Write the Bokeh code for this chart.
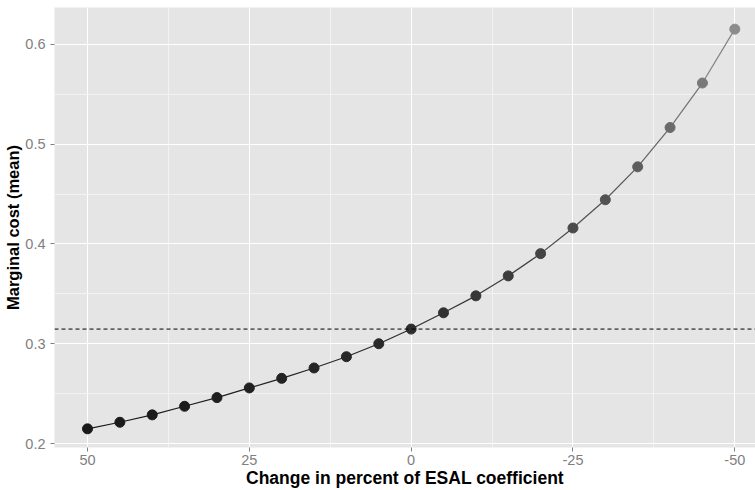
from bokeh.plotting import figure
from bokeh.models import Range1d, FixedTicker, Span, ColumnDataSource
from bokeh.embed import file_html
from bokeh.resources import INLINE

# Data
pct_change = [50, 45, 40, 35, 30, 25, 20, 15, 10, 5, 0,
              -5, -10, -15, -20, -25, -30, -35, -40, -45, -50]
marginal_cost = [0.2147, 0.2213, 0.2287, 0.2373, 0.2460, 0.2557, 0.2653,
                 0.2757, 0.2870, 0.3000, 0.3147, 0.3310, 0.3480, 0.3680,
                 0.3903, 0.4160, 0.4443, 0.4773, 0.5167, 0.5613, 0.6153]
baseline_cost = 0.3147
x_ticks = [50, 25, 0, -25, -50]
x_tick_labels = ["50", "25", "0", "-25", "-50"]
y_ticks = [0.2, 0.3, 0.4, 0.5, 0.6]
y_tick_labels = ["0.2", "0.3", "0.4", "0.5", "0.6"]

# colour gradient dark -> grey mapped on the value
lo, hi = min(marginal_cost), max(marginal_cost)
def grey(v):
    t = (v - lo) / (hi - lo)
    g = int(round(26 + (140 - 26) * t ** 1.25))
    return "#%02x%02x%02x" % (g, g, g)

pt_colors = [grey(v) for v in marginal_cost]
seg = ColumnDataSource(dict(
    x0=pct_change[:-1], y0=marginal_cost[:-1],
    x1=pct_change[1:], y1=marginal_cost[1:],
    c=[grey((a + b) / 2) for a, b in zip(marginal_cost[:-1], marginal_cost[1:])],
))
pts = ColumnDataSource(dict(x=pct_change, y=marginal_cost, c=pt_colors))

FONT = "Liberation Sans"

p = figure(width=755, height=490, output_backend="svg", toolbar_location=None,
           x_range=Range1d(55.1, -53.2), y_range=Range1d(0.196, 0.637),
           min_border_left=54, min_border_right=0, min_border_top=7,
           min_border_bottom=43)
p.background_fill_color = "#E5E5E5"
p.border_fill_color = "white"
p.outline_line_color = None

p.xaxis.ticker = FixedTicker(ticks=x_ticks, minor_ticks=[37.5, 12.5, -12.5, -37.5])
p.yaxis.ticker = FixedTicker(ticks=y_ticks, minor_ticks=[0.25, 0.35, 0.45, 0.55])
p.xaxis.major_label_overrides = dict(zip(x_ticks, x_tick_labels))
p.yaxis.major_label_overrides = dict(zip(y_ticks, y_tick_labels))

for ax in (p.xaxis[0], p.yaxis[0]):
    ax.axis_line_color = None
    ax.major_tick_line_color = "#7f7f7f"
    ax.major_tick_out = 4
    ax.major_tick_in = 0
    ax.minor_tick_line_color = None
    ax.major_label_text_color = "#7f7f7f"
    ax.major_label_text_font = FONT
    ax.major_label_text_font_size = "14.5px"
    ax.axis_label_text_font = FONT
    ax.axis_label_text_font_style = "bold"
    ax.axis_label_text_color = "black"

p.xaxis.major_label_standoff = 3
p.xaxis.axis_label_standoff = 0
p.xaxis.axis_label_text_font_size = "17.5px"
p.yaxis.major_label_standoff = 5
p.yaxis.axis_label_standoff = 0
p.yaxis.axis_label_text_font_size = "16.5px"

p.xaxis.axis_label = "Change in percent of ESAL coefficient"
p.yaxis.axis_label = "Marginal cost (mean)"

p.grid.grid_line_color = "white"
p.grid.grid_line_width = 1
p.grid.minor_grid_line_color = "#F2F2F2"
p.grid.minor_grid_line_width = 1

p.add_layout(Span(location=baseline_cost, dimension="width",
                  line_color="black", line_dash="4 3", line_width=1))

p.segment("x0", "y0", "x1", "y1", source=seg, line_color="c", line_width=1.2)
p.scatter("x", "y", source=pts, size=10, fill_color="c", line_color="c")

open("out.html", "w").write(file_html(p, INLINE))
